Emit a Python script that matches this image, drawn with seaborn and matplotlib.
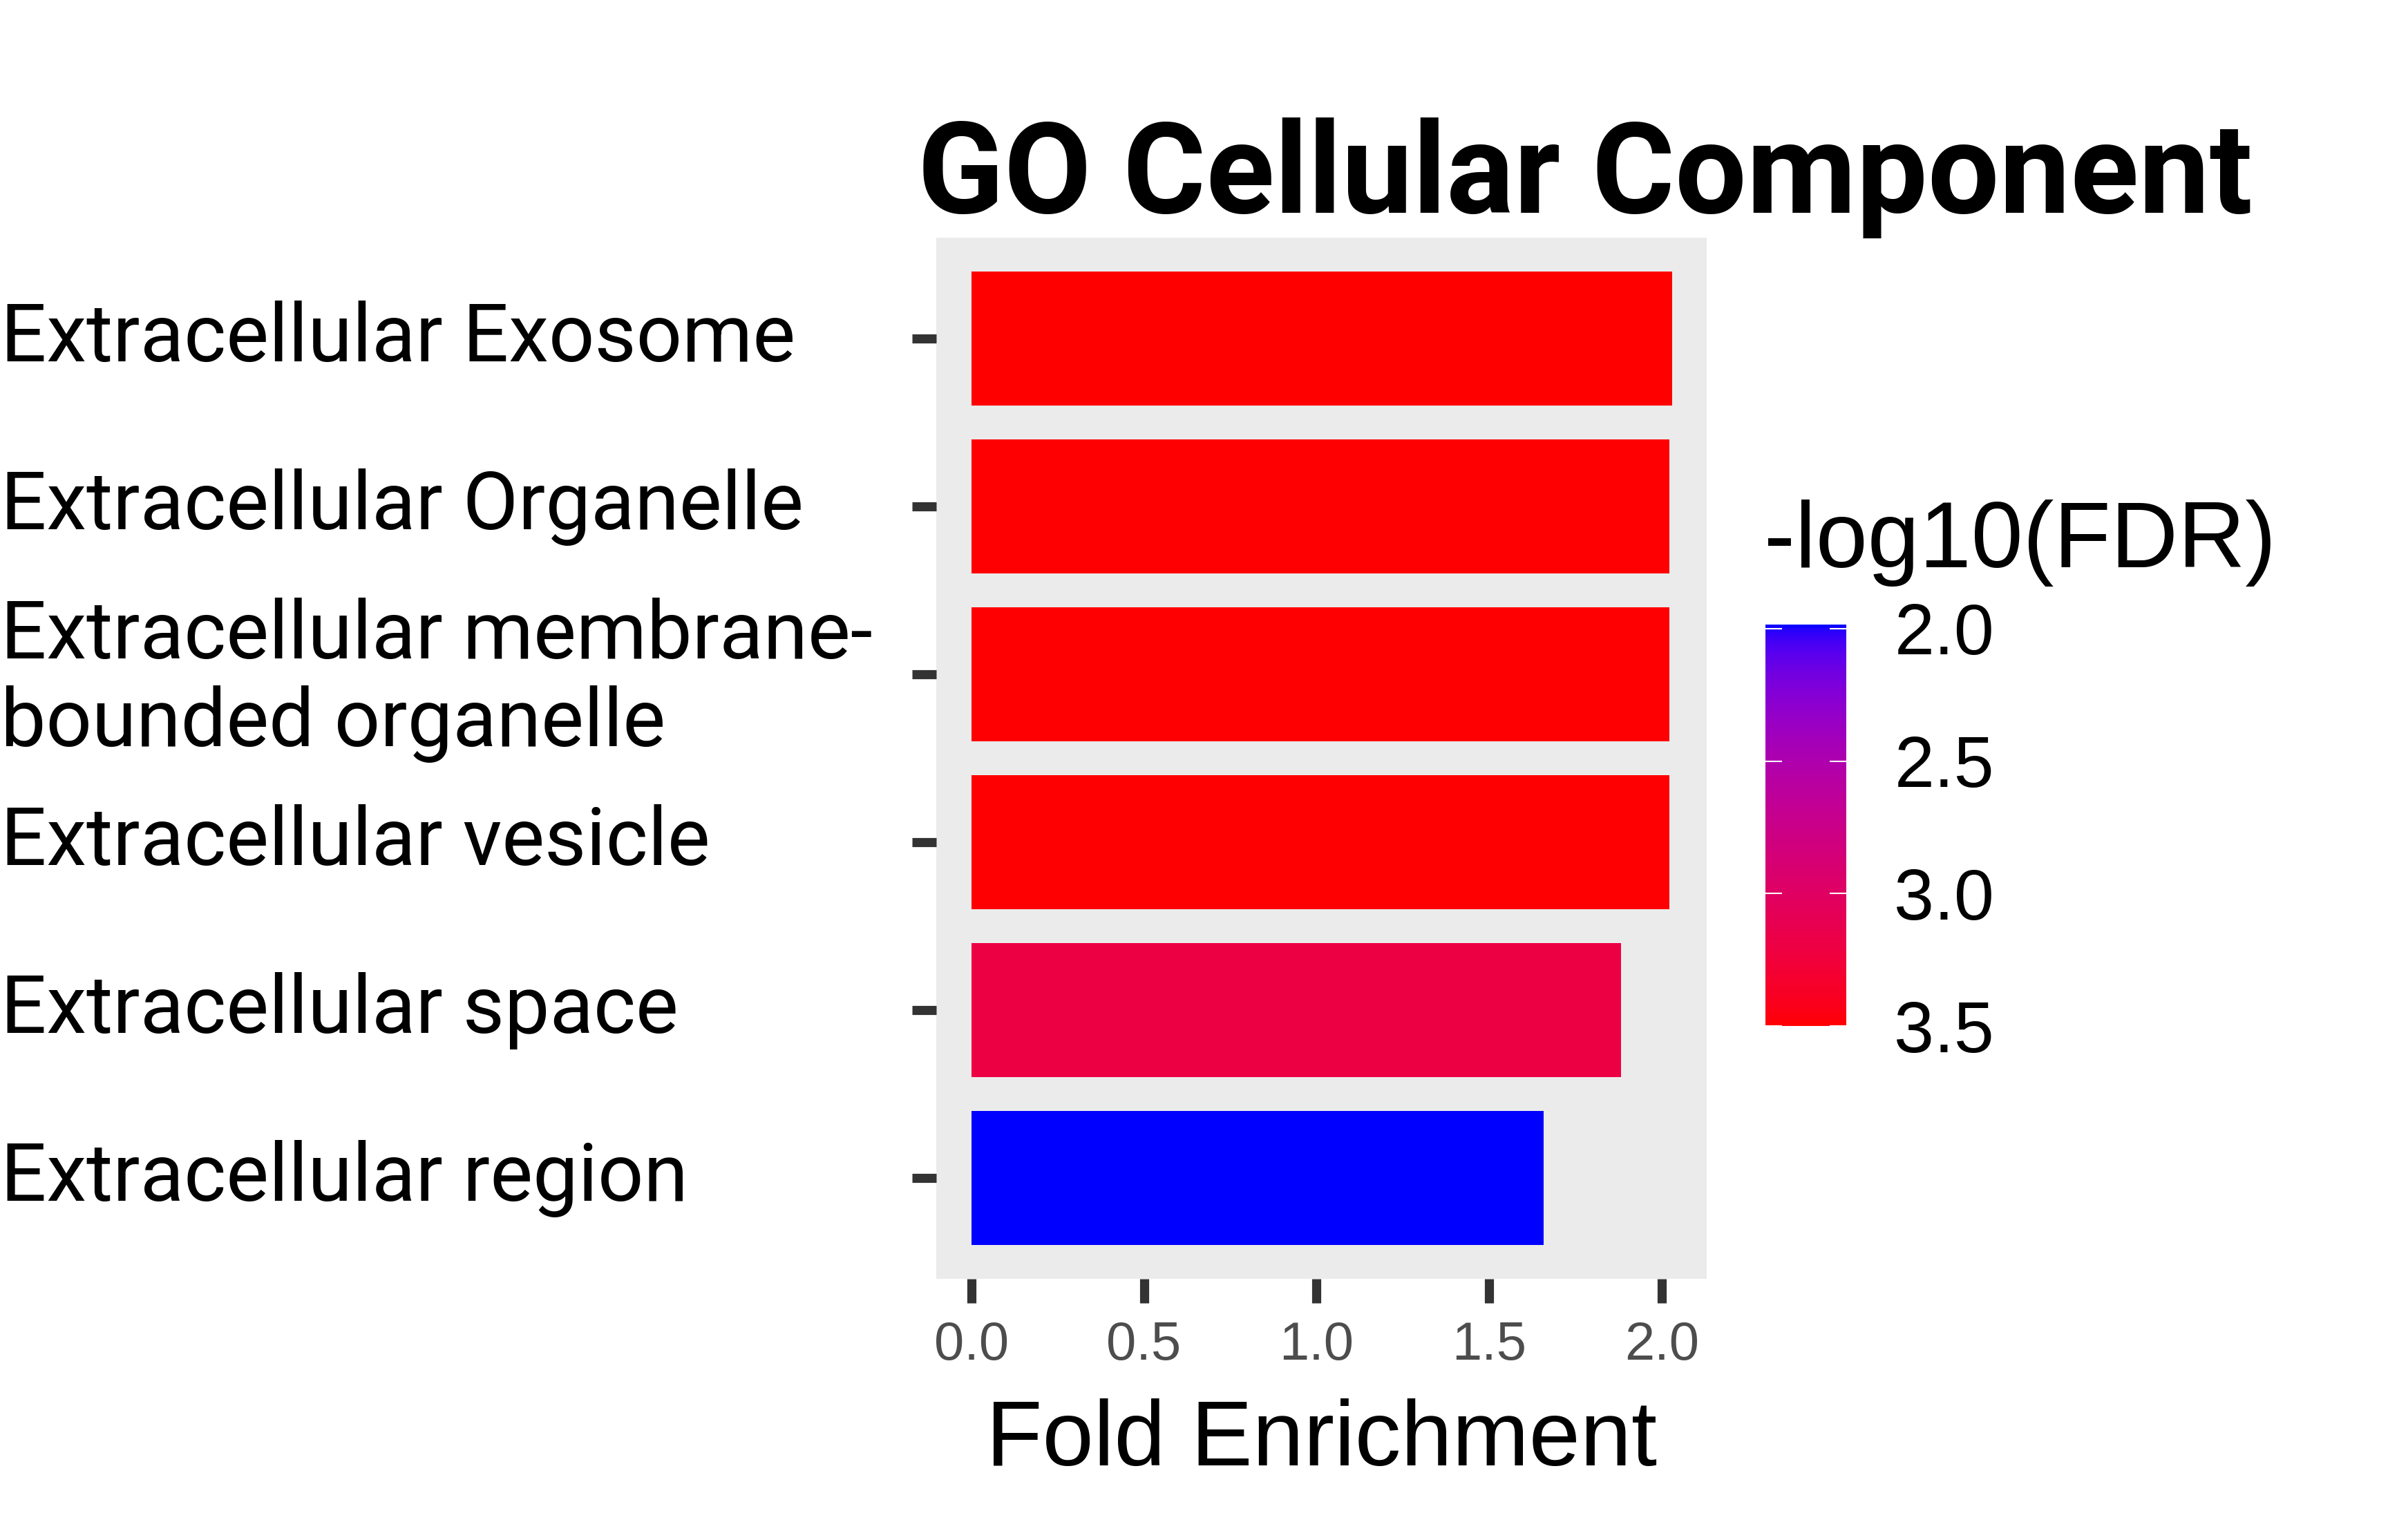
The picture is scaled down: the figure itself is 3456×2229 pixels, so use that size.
import numpy as np
import pandas as pd
import matplotlib
matplotlib.use("Agg")
import matplotlib.pyplot as plt
import matplotlib.transforms as mtransforms
from matplotlib.colors import ListedColormap, Normalize
from matplotlib.cm import ScalarMappable
import seaborn as sns

terms = ["Extracellular Exosome",
         "Extracellular Organelle",
         "Extracellular membrane-\nbounded organelle",
         "Extracellular vesicle",
         "Extracellular space",
         "Extracellular region"]
fold_enrichment = [2.029, 2.022, 2.022, 2.022, 1.881, 1.657]
neg_log10_fdr = [3.50, 3.49, 3.49, 3.49, 3.20, 1.985]
x_ticks = [0.0, 0.5, 1.0, 1.5, 2.0]
fdr_ticks = [2.0, 2.5, 3.0, 3.5]

df = pd.DataFrame({"term": terms, "fe": fold_enrichment, "fdr": neg_log10_fdr})


# ggplot-like gradient: interpolate blue -> red in CIE Lab
WHITE = np.array([0.95047, 1.0, 1.08883])
M = np.array([[0.4124, 0.3576, 0.1805],
              [0.2126, 0.7152, 0.0722],
              [0.0193, 0.1192, 0.9505]])


def to_lab(rgb):
    c = np.asarray(rgb, float)
    lin = np.where(c <= 0.04045, c / 12.92, ((c + 0.055) / 1.055) ** 2.4)
    t = M @ lin / WHITE
    f = np.where(t > (6 / 29) ** 3, np.cbrt(t), t / (3 * (6 / 29) ** 2) + 4 / 29)
    return np.array([116 * f[1] - 16, 500 * (f[0] - f[1]), 200 * (f[1] - f[2])])


def from_lab(lab):
    fy = (lab[0] + 16) / 116
    f = np.array([fy + lab[1] / 500, fy, fy - lab[2] / 200])
    t = np.where(f > 6 / 29, f ** 3, 3 * (6 / 29) ** 2 * (f - 4 / 29)) * WHITE
    lin = np.clip(np.linalg.solve(M, t), 0, 1)
    c = np.where(lin <= 0.0031308, 12.92 * lin, 1.055 * lin ** (1 / 2.4) - 0.055)
    return np.clip(c, 0, 1)


lo, hi = to_lab([0, 0, 1]), to_lab([1, 0, 0])
cmap = ListedColormap([from_lab(lo + (hi - lo) * s) for s in np.linspace(0, 1, 256)])
norm = Normalize(1.985, 3.5)

fig = plt.figure(figsize=(34.56, 22.29), dpi=100)
ax = fig.add_axes([0.3921, 0.1696, 0.3226, 0.6761])

sns.barplot(data=df, x="fe", y="term", hue="fdr", palette=cmap, hue_norm=norm,
            dodge=False, saturation=1, width=0.8, legend=False, ax=ax)

ax.set_facecolor("#EBEBEB")
for s in ax.spines.values():
    s.set_visible(False)
ax.grid(False)
ax.set_xlim(-0.1015, 2.13)
ax.set_ylim(5.6, -0.6)
ax.set_xticks(x_ticks)
ax.set_xticklabels([f"{v:.1f}" for v in x_ticks], family="Liberation Sans",
                   fontsize=56, color="#4D4D4D")
ax.tick_params(axis="x", length=25, width=9.5, color="#333333", pad=18)
ax.tick_params(axis="y", length=25, width=9.5, color="#333333", pad=950)
lift = mtransforms.ScaledTranslation(0, 0.11, fig.dpi_scale_trans)
for lab in ax.get_yticklabels():
    lab.set_family("Roboto")
    lab.set_fontsize(84)
    lab.set_color("black")
    lab.set_ha("left")
    lab.set_linespacing(1.17)
    lab.set_transform(lab.get_transform() + lift)
ax.set_ylabel("")
ax.set_xlabel("Fold Enrichment", family="Liberation Sans", fontsize=96,
              color="black", va="center")
ax.xaxis.set_label_coords(0.5, -0.1566)

fig.text(0.6638, 0.8618, "GO Cellular Component", family="Roboto",
         fontweight="bold", fontsize=132, ha="center", va="baseline")

# colour bar, low values on top like the reference
cax = fig.add_axes([0.7392, 0.3337, 0.0339, 0.2607])
cb = fig.colorbar(ScalarMappable(norm=norm, cmap=cmap), cax=cax)
cb.outline.set_visible(False)
cax.invert_yaxis()
cb.set_ticks(fdr_ticks)
cb.set_ticklabels([f"{v:.1f}" for v in fdr_ticks])
cax.tick_params(direction="in", length=17, width=1.5, color="white",
                left=True, right=True, pad=50, labelsize=75)
for lab in cax.get_yticklabels():
    lab.set_family("Liberation Sans")
fig.text(0.7388, 0.6317, "-log10(FDR)", family="Liberation Sans",
         fontsize=97, ha="left", va="baseline")

fig.savefig("out.png", dpi=100, facecolor="white")
